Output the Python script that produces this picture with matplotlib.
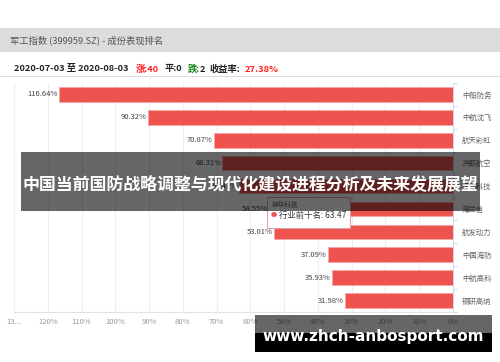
import matplotlib.pyplot as plt
from matplotlib.patches import Rectangle
from matplotlib.ticker import FixedLocator

plt.rcParams['font.family'] = ['Noto Sans CJK SC', 'DejaVu Sans']

# 成份股及区间收益率（%）
stocks = ["中船防务", "中航沈飞", "航天彩虹", "洪都航空", "振华科技",
          "海兰信", "航发动力", "中国海防", "中航高科", "钢研高纳"]
returns = [116.64, 90.32, 70.87, 68.31, 63.47, 54.55, 53.01, 37.09, 35.93, 31.98]
xticks = list(range(130, -1, -10))
xtick_labels = ["13..."] + [f"{t}%" for t in xticks[1:]]

W, H = 500, 362


def fx(x):
    return x / W


def fy(y):
    return 1 - y / H


fig = plt.figure(figsize=(5, 3.62), dpi=100)

# 顶部标题栏
fig.patches.append(Rectangle((0, fy(52)), 1, fy(28) - fy(52), transform=fig.transFigure,
                             facecolor="#dcdcdc", edgecolor="none", zorder=0))
fig.text(fx(10), fy(40), "军工指数 (399959.SZ) - 成份表现排名", fontsize=6.7,
         color="#555555", va="center", ha="left")

# 统计信息
y0 = fy(69)
fs = 6.7
fig.text(fx(14), y0, "2020-07-03 至 2020-08-03", fontsize=fs, fontweight="bold",
         color="#222222", va="center")
fig.text(fx(136), y0, "涨:40", fontsize=fs, fontweight="bold", color="#ff2020", va="center")
fig.text(fx(165), y0, "平:0", fontsize=fs, fontweight="bold", color="#222222", va="center")
fig.text(fx(188), y0, "跌:", fontsize=fs, fontweight="bold", color="#1a8a1a", va="center")
fig.text(fx(199.5), y0, "2", fontsize=fs, fontweight="bold", color="#222222", va="center")
fig.text(fx(210), y0, "收益率:", fontsize=fs, fontweight="bold", color="#222222", va="center")
fig.text(fx(245), y0, "27.38%", fontsize=fs, fontweight="bold", color="#ff2020", va="center")
fig.lines.append(plt.Line2D([0, 1], [fy(76), fy(76)], transform=fig.transFigure,
                            color="#dddddd", lw=0.8))

# 条形图
ax = fig.add_axes([fx(14), fy(312), fx(453) - fx(14), fy(83) - fy(312)])
pos = list(range(len(stocks)))
ax.barh(pos, returns, height=0.64, color="#ee5350", edgecolor="#f6a6a4", linewidth=0.6,
        zorder=2)
for p, v in zip(pos, returns):
    ax.text(v + 0.3, p, f"{v:.2f}%", ha="right", va="center", fontsize=5.5,
            color="#444444", zorder=3)

ax.set_xlim(130, 0)
ax.set_ylim(len(stocks) - 0.5, -0.5)
ax.set_xticks(xticks)
ax.set_xticklabels(xtick_labels, fontsize=5.5, color="#999999")
ax.tick_params(axis="x", length=0, pad=4.5)
ax.grid(axis="x", color="#eeeeee", lw=0.8, zorder=0)

ax.yaxis.tick_right()
ax.set_yticks(pos)
ax.set_yticklabels(stocks, fontsize=5.3, color="#666666")
ax.tick_params(axis="y", which="major", length=0, pad=6.5)
ax.yaxis.set_minor_locator(FixedLocator([p - 0.5 for p in pos] + [len(pos) - 0.5]))
ax.tick_params(axis="y", which="minor", length=3, color="#ccd6eb", width=0.7)

for s in ["top", "left"]:
    ax.spines[s].set_visible(False)
ax.spines["right"].set_color("#ccd6eb")
ax.spines["right"].set_linewidth(0.7)
ax.spines["bottom"].set_color("#dde3ee")
ax.spines["bottom"].set_linewidth(0.8)

# 提示框
fig.patches.append(Rectangle((fx(267), fy(228)), fx(350) - fx(267), fy(197) - fy(228),
                             transform=fig.transFigure, facecolor="white",
                             edgecolor="#d9a0a0", lw=0.7, zorder=5))
fig.text(fx(272), fy(205), "振华科技", fontsize=4.8, color="#666666", va="center", zorder=6)
fig.text(fx(271), fy(215.5), "●", fontsize=4.5, color="#ee5350", va="center", zorder=6)
fig.text(fx(279), fy(215.5), "行业前十名: 63.47", fontsize=6, color="#333333",
         va="center", zorder=6)

# 标题横幅
fig.patches.append(Rectangle((fx(21), fy(211)), fx(480) - fx(21), fy(152) - fy(211),
                             transform=fig.transFigure, facecolor="black", alpha=0.6,
                             edgecolor="none", zorder=10))
fig.text(0.5, fy(185), "中国当前国防战略调整与现代化建设进程分析及未来发展展望",
         fontsize=12.2, fontweight="bold", color="white", ha="center", va="center", zorder=11)

# 网址水印
fig.patches.append(Rectangle((fx(255), fy(333)), fx(492) - fx(255), fy(315) - fy(333),
                             transform=fig.transFigure, facecolor="black", alpha=0.6,
                             edgecolor="none", zorder=10))
fig.patches.append(Rectangle((fx(255), fy(352)), fx(492) - fx(255), fy(333) - fy(352),
                             transform=fig.transFigure, facecolor="black",
                             edgecolor="none", zorder=10))
fig.text(fx(373), fy(336), "www.zhch-anbosport.com", fontsize=11, fontweight="bold",
         color="white", ha="center", va="center", family=["DejaVu Sans"], zorder=11)

fig.savefig("out.png", dpi=100)
